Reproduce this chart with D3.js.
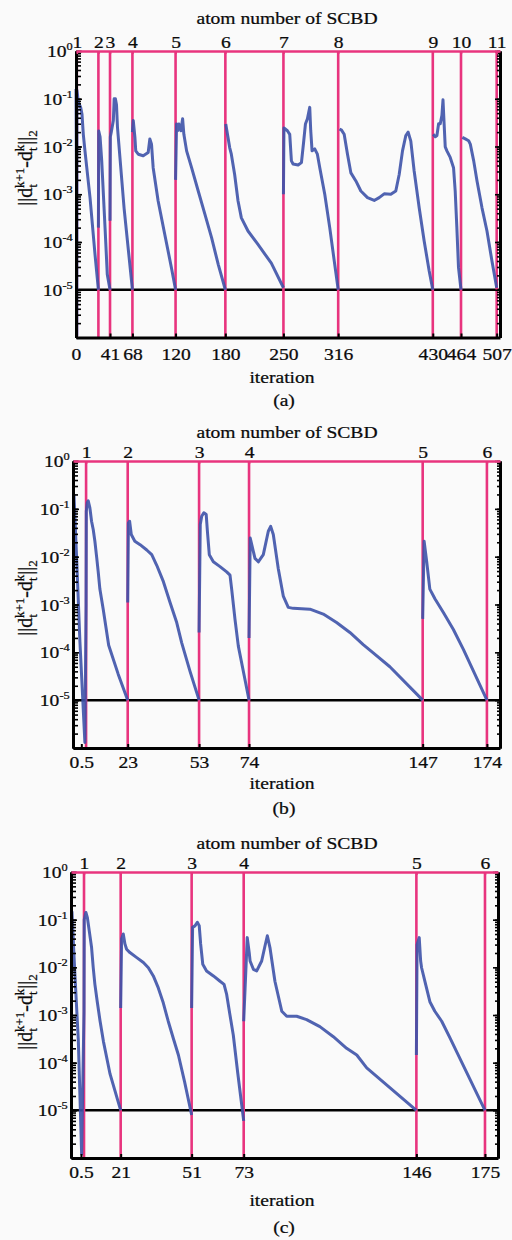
<!doctype html>
<html>

<head>
    <meta charset="utf-8">
    <title>SCBD convergence</title>
    <script src="https://cdn.jsdelivr.net/npm/d3@7"></script>
    <style>
        body { margin: 0; background: #fafafa; }
        svg { display: block; }
    </style>
</head>

<body>
    <svg width="512" height="1240"></svg>
    <script>
    // y axis: log decades and their exponent labels
    var yDecades = [1, 1e-1, 1e-2, 1e-3, 1e-4, 1e-5];
    var yExponents = ["0", "-1", "-2", "-3", "-4", "-5"];
    var threshold = 1e-5;

    // ---- (a) ----
    var atomItersA = [1, 27, 41, 68, 120, 180, 250, 316, 430, 464, 507];
    var atomLabelsA = ["1", "2", "3", "4", "5", "6", "7", "8", "9", "10", "11"];
    var tickItersA = [0, 41, 68, 120, 180, 250, 316, 430, 464, 507];
    var tickLabelsA = ["0", "41", "68", "120", "180", "250", "316", "430", "464", "507"];
    var segmentsA = [
        [[0, 0.16], [0.6, 2e-3], [1.0, 1.1e-6], [1.2, 0.15], [2.8, 0.085], [5.6, 0.066], [7.2, 0.048], [8.8, 0.018], [10.8, 0.0081], [16.9, 8.5e-4], [22.9, 5.5e-5], [27, 1e-5]],
        [[27, 2e-4], [27.4, 0.021], [29, 0.016], [31, 0.005], [35, 2e-4], [37.7, 2.1e-5], [41, 1e-5]],
        [[41, 2.8e-4], [41.4, 0.016], [42.5, 0.02], [43.5, 0.025], [45, 0.035], [46, 0.1], [47.5, 0.1], [48.8, 0.075], [50, 0.025], [58, 5e-4], [68, 1e-5]],
        [[68, 0.02], [69, 0.035], [71, 0.0155], [72, 0.0081], [75, 0.0069], [81, 0.0064], [87, 0.0075], [89, 0.0144], [91, 0.0112], [93, 0.0036], [99, 7.2e-4], [107, 1.44e-4], [115, 2.9e-5], [120, 1e-5]],
        [[120, 2e-3], [121.2, 0.0295], [122.5, 0.0214], [124, 0.0295], [126.4, 0.0214], [128.5, 0.038], [130, 0.018], [133.3, 0.0081], [139.3, 0.0036], [147.3, 1.17e-3], [155.4, 3.8e-4], [163.4, 1.23e-4], [171.4, 3.4e-5], [180, 1e-5]],
        [[180.5, 0.0295], [183.2, 0.0155], [185.2, 0.0095], [187.2, 0.0069], [191.2, 0.0026], [195.3, 7.2e-4], [199.3, 3.2e-4], [207.3, 1.7e-4], [219.3, 8.9e-5], [235.4, 3.6e-5], [250, 1.1e-5]],
        [[250, 1e-3], [250.6, 0.0244], [254.8, 0.0214], [257.6, 0.018], [259.6, 0.005], [261.6, 0.0043], [267.7, 0.0041], [271.7, 0.0046], [274.5, 0.0132], [276.5, 0.0295], [278.9, 0.038], [281.7, 0.066], [282.9, 0.0214], [284.5, 0.0081], [287.7, 0.0089], [290.9, 0.0069], [293.8, 0.0036], [299.8, 1e-3], [305.8, 2e-4], [311.8, 3.4e-5], [316, 1e-5]],
        [[317.6, 0.0232], [320, 0.022], [323.2, 0.018], [327.2, 0.0069], [331.3, 0.0028], [337.3, 0.0019], [343.3, 1.17e-3], [351.3, 8.5e-4], [359.4, 7.4e-4], [365.4, 8.5e-4], [371.4, 1.02e-3], [379.4, 1e-3], [385.4, 1.17e-3], [389.5, 2.6e-3], [393.5, 8.1e-3], [397.5, 0.017], [400.3, 0.02], [403.5, 0.013], [407.5, 3.1e-3], [413.6, 5.2e-4], [419.6, 1.05e-4], [425.6, 2.5e-5], [430, 1e-5]],
        [[430.5, 0.018], [433, 0.016], [435, 0.017], [437, 0.03], [439, 0.03], [441, 0.045], [442.3, 0.095], [443.3, 0.04], [445, 0.0098], [447, 0.0081], [451, 0.0059], [455, 0.0036], [457, 1.17e-3], [459, 2e-4], [461, 2.9e-5], [464, 1e-5]],
        [[465.6, 0.0155], [469.2, 0.0144], [473.2, 0.0132], [475.2, 0.0112], [479.3, 0.005], [483.3, 0.0019], [489.3, 5.2e-4], [495.3, 1.7e-4], [501.3, 4e-5], [507, 1.1e-5]]
    ];

    // ---- (b) ----
    var atomItersB = [5.5, 23, 53, 74, 147, 174];
    var atomLabelsB = ["1", "2", "3", "4", "5", "6"];
    var tickItersB = [3.5, 23, 53, 74, 147, 174];
    var tickLabelsB = ["0.5", "23", "53", "74", "147", "174"];
    var segmentsB = [
        [[0.4, 0.2], [1.5, 0.01], [2.9, 1.7e-4], [5, 1.3e-6], [5.5, 1e-3], [5.6, 0.089], [6.0, 0.135], [6.4, 0.147], [7.1, 0.105], [7.8, 0.055], [8.5, 0.037], [9.2, 0.021], [10, 0.0092], [10.6, 0.0048], [11.3, 0.0021], [12.7, 8e-4], [15, 1.4e-4], [19, 3.5e-5], [23, 1e-5]],
        [[23, 1.1e-3], [23.3, 0.051], [23.8, 0.055], [24.5, 0.029], [26, 0.021], [28.2, 0.0178], [31, 0.0138], [33.1, 0.011], [35.2, 0.0066], [38, 0.003], [40.8, 0.0011], [43.6, 4.2e-4], [45.7, 1.58e-4], [49.2, 4e-5], [53, 1e-5]],
        [[53, 2.6e-4], [53.5, 0.047], [54.1, 0.07], [55, 0.083], [56, 0.076], [56.5, 0.034], [57.3, 0.011], [59, 0.0078], [61.8, 0.0062], [64.6, 0.0048], [66, 0.0041], [66.7, 0.0021], [68.1, 4.9e-4], [69.5, 1.35e-4], [72, 3.2e-5], [74, 1e-5]],
        [[74, 2e-4], [74.5, 0.0245], [76.5, 0.0092], [77.9, 0.0078], [80, 0.011], [82.1, 0.034], [83.1, 0.043], [84.2, 0.029], [86.3, 0.0056], [88.4, 0.0015], [90.5, 8.7e-4], [92.6, 8.3e-4], [99.6, 8e-4], [105.2, 6.3e-4], [110.8, 4.2e-4], [116.4, 2.6e-4], [122, 1.45e-4], [126.2, 9.7e-5], [133.2, 5e-5], [147, 1e-5]],
        [[147, 5e-4], [147.6, 0.021], [148.7, 0.0078], [150, 0.0021], [152.2, 0.0013], [155.7, 6.8e-4], [159.9, 3e-4], [164.1, 1.15e-4], [174, 1e-5]]
    ];

    // ---- (c) ----
    var atomItersC = [5.5, 21, 51, 73, 146, 175];
    var atomLabelsC = ["1", "2", "3", "4", "5", "6"];
    var tickItersC = [4.2, 21, 51, 73, 146, 175];
    var tickLabelsC = ["0.5", "21", "51", "73", "146", "175"];
    var segmentsC = [
        [[0.4, 0.15], [1.5, 0.01], [3.1, 2.9e-4], [4.5, 1.2e-6], [5.5, 1.2e-3], [5.6, 0.1], [6.3, 0.142], [6.9, 0.112], [7.7, 0.059], [8.7, 0.026], [9.4, 0.0098], [10.1, 0.0044], [11.1, 0.0019], [12.3, 7.4e-4], [13.7, 2.8e-4], [16.5, 5.8e-5], [21, 1e-5]],
        [[21, 1.4e-3], [21.4, 0.04], [22.1, 0.05], [22.8, 0.031], [23.5, 0.024], [24.9, 0.0204], [27.8, 0.016], [30.6, 0.0126], [32.7, 0.0098], [34.8, 0.0066], [36.9, 0.0037], [39, 0.0018], [41.1, 7.4e-4], [43.2, 3.3e-4], [45.4, 1.45e-4], [48, 4e-5], [51, 8e-6]],
        [[51, 1.4e-3], [51.4, 0.069], [52.4, 0.074], [53.4, 0.088], [54.2, 0.075], [54.8, 0.031], [55.7, 0.0116], [57.3, 0.0084], [60.2, 0.0066], [63, 0.0051], [64.7, 0.0044], [65.8, 0.0027], [67.2, 0.001], [68.6, 3.8e-4], [70.5, 6e-5], [73, 6e-6]],
        [[73, 7.4e-4], [74.5, 0.042], [75.4, 0.019], [75.7, 0.0136], [77.1, 0.0091], [78.5, 0.0084], [80.6, 0.0136], [82, 0.028], [83, 0.046], [84.1, 0.026], [86.2, 0.0051], [89.1, 0.0012], [91.2, 9.4e-4], [95.4, 9.4e-4], [99.6, 8e-4], [105.2, 5.7e-4], [110.9, 3.5e-4], [116.5, 2e-4], [120.8, 1.45e-4], [125, 7.8e-5], [146, 1e-5]],
        [[146, 1.45e-4], [146.3, 0.03], [147.2, 0.042], [147.8, 0.0136], [148.2, 0.0098], [149.6, 0.0051], [151.7, 0.0019], [153.8, 0.0012], [156.7, 7.4e-4], [160.2, 3.3e-4], [163, 1.7e-4], [175, 1e-5]]
    ];

    var serif = "'Liberation Serif', 'Times New Roman', serif",
        pink = "#e8347e",
        blue = "#3d52a9",
        ink = "#0a0a0a",
        stretch = "scale(1.12,1)";

    var panels = [
        { left: 76, right: 500, top: 51, bottom: 337.5, xMax: 511, atomIters: atomItersA, atomLabels: atomLabelsA,
          tickIters: tickItersA, tickLabels: tickLabelsA, segments: segmentsA, tickPad: 10,
          titleY: 24, iterY: 383, caption: "(a)", captionY: 406, ylabelY: 168 },
        { left: 73, right: 500, top: 461, bottom: 748, xMax: 179.5, atomIters: atomItersB, atomLabels: atomLabelsB,
          tickIters: tickItersB, tickLabels: tickLabelsB, segments: segmentsB, tickPad: 8,
          titleY: 438, iterY: 789, caption: "(b)", captionY: 814, ylabelY: 598 },
        { left: 71, right: 498, top: 872, bottom: 1158, xMax: 180.5, atomIters: atomItersC, atomLabels: atomLabelsC,
          tickIters: tickItersC, tickLabels: tickLabelsC, segments: segmentsC, tickPad: 8,
          titleY: 849, iterY: 1206, caption: "(c)", captionY: 1233, ylabelY: 1012 }
    ];

    var svg = d3.select("svg");
    svg.append("rect").attr("width", 512).attr("height", 1240).attr("fill", "#fafafa");

    function inkText(sel) {
        sel.attr("font-family", serif)
            .attr("font-size", 17.5)
            .attr("fill", ink)
            .attr("stroke", ink)
            .attr("stroke-width", 0.25);
    }

    function label(g, x, y, txt) {
        g.append("text")
            .attr("transform", "translate(" + x + "," + y + ") " + stretch)
            .attr("text-anchor", "middle")
            .call(inkText)
            .text(txt);
    }

    panels.forEach(function(p) {
        var x = d3.scaleLinear().domain([0, p.xMax]).range([p.left, p.right]),
            y = d3.scaleLog().domain([1e-6, 1]).range([p.bottom, p.top]),
            g = svg.append("g");

        // 10^-5 stopping line
        g.append("line")
            .attr("x1", p.left).attr("x2", p.right)
            .attr("y1", y(threshold)).attr("y2", y(threshold))
            .attr("stroke", "#000").attr("stroke-width", 2.5);

        // one vertical line per added atom
        g.append("g").selectAll("line")
            .data(p.atomIters)
            .enter().append("line")
            .attr("x1", function(d) { return x(d); })
            .attr("x2", function(d) { return x(d); })
            .attr("y1", y(1))
            .attr("y2", p.bottom)
            .attr("stroke", pink)
            .attr("stroke-width", 2.6);

        var line = d3.line()
            .x(function(d) { return x(d[0]); })
            .y(function(d) { return y(d[1]); });

        g.append("g").selectAll("path")
            .data(p.segments)
            .enter().append("path")
            .attr("d", line)
            .attr("fill", "none")
            .attr("stroke", blue)
            .attr("stroke-width", 3)
            .attr("stroke-opacity", 0.9)
            .attr("stroke-linejoin", "round");

        // left axis: minor + major ticks, labels 10^k
        g.append("g")
            .attr("transform", "translate(" + p.left + ",0)")
            .call(d3.axisLeft(y).tickValues(y.ticks()).tickSize(-5).tickSizeOuter(0).tickFormat(""));
        var yl = g.append("g")
            .attr("transform", "translate(" + p.left + ",0)")
            .call(d3.axisLeft(y).tickValues(yDecades).tickSize(-6).tickSizeOuter(0).tickPadding(3)
                .tickFormat(function() { return "10"; }));
        yl.selectAll(".tick text")
            .call(inkText)
            .attr("transform", stretch)
            .append("tspan")
            .attr("font-size", 11)
            .attr("dy", -7)
            .text(function(d, i) { return yExponents[i]; });

        // right axis
        g.append("g")
            .attr("transform", "translate(" + p.right + ",0)")
            .call(d3.axisRight(y).tickValues(y.ticks()).tickSize(-3).tickSizeOuter(0).tickFormat(""));
        g.append("g")
            .attr("transform", "translate(" + p.right + ",0)")
            .call(d3.axisRight(y).tickValues(yDecades).tickSize(-5).tickSizeOuter(0).tickFormat(""));

        g.selectAll(".domain").attr("stroke", "#000").attr("stroke-width", 3);
        g.selectAll(".tick line").attr("stroke", "#000").attr("stroke-width", 1.6);

        // bottom axis: iteration
        var xb = g.append("g")
            .attr("transform", "translate(0," + p.bottom + ")")
            .call(d3.axisBottom(x).tickValues(p.tickIters).tickSize(-4).tickSizeOuter(0).tickPadding(p.tickPad)
                .tickFormat(function(d, i) { return p.tickLabels[i]; }));
        xb.select(".domain").attr("stroke", "#000").attr("stroke-width", 3);
        xb.selectAll(".tick line").attr("stroke", "#000").attr("stroke-width", 2);
        xb.selectAll(".tick text").call(inkText).attr("transform", stretch);

        // top axis: atom number (pink)
        var xt = g.append("g")
            .attr("transform", "translate(0," + y(1) + ")")
            .call(d3.axisTop(x).tickValues(p.atomIters).tickSize(-3).tickSizeOuter(0).tickPadding(3)
                .tickFormat(function(d, i) { return p.atomLabels[i]; }));
        xt.select(".domain").attr("stroke", pink).attr("stroke-width", 2.6);
        xt.selectAll(".tick line").attr("stroke", pink).attr("stroke-width", 1.5);
        xt.selectAll(".tick text").call(inkText).attr("transform", stretch);

        label(g, 287, p.titleY, "atom number of SCBD");
        label(g, 282, p.iterY, "iteration");
        label(g, 284, p.captionY, p.caption);

        // y label ||d_t^{k+1} - d_t^k||_2
        var t = g.append("text")
            .attr("transform", "translate(32," + p.ylabelY + ") rotate(-90)")
            .attr("text-anchor", "middle")
            .call(inkText)
            .attr("font-size", 20);
        t.append("tspan").text("||d");
        t.append("tspan").attr("font-size", 13).attr("dy", 5).text("t");
        t.append("tspan").attr("font-size", 13).attr("dx", -3.8).attr("dy", -13).text("k+1");
        t.append("tspan").attr("dy", 8).text("-d");
        t.append("tspan").attr("font-size", 13).attr("dy", 5).text("t");
        t.append("tspan").attr("font-size", 13).attr("dx", -3.8).attr("dy", -13).text("k");
        t.append("tspan").attr("dy", 8).text("||");
        t.append("tspan").attr("font-size", 13).attr("dy", 5).text("2");
    });
    </script>
</body>

</html>
